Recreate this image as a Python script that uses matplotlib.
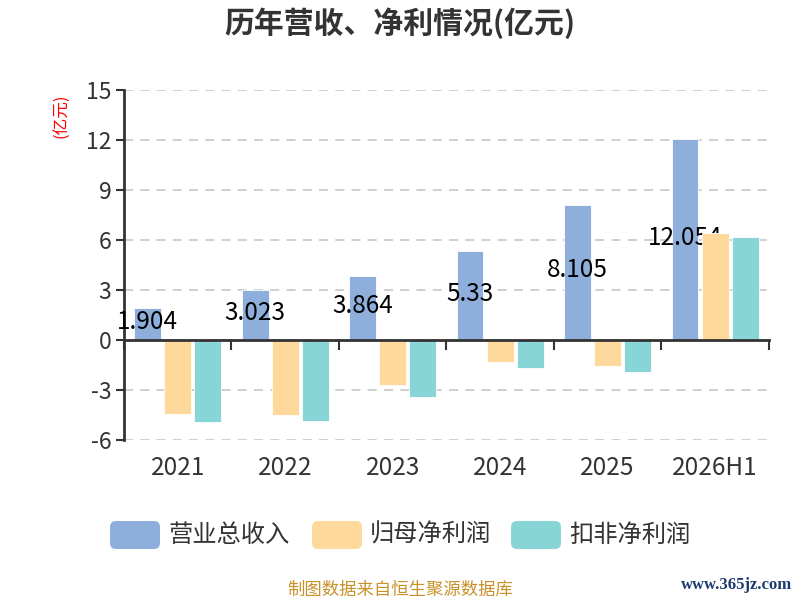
import matplotlib
matplotlib.use('Agg')
import matplotlib.pyplot as plt
from matplotlib.patches import FancyBboxPatch
from matplotlib.transforms import IdentityTransform, blended_transform_factory
import numpy as np

plt.rcParams['font.family'] = ['Noto Sans CJK SC', 'DejaVu Sans']

years = ['2021', '2022', '2023', '2024', '2025', '2026H1']
series_names = ['营业总收入', '归母净利润', '扣非净利润']
revenue = [1.904, 3.023, 3.864, 5.33, 8.105, 12.054]
net_profit = [-4.46, -4.52, -2.73, -1.32, -1.56, 6.44]
net_profit_ded = [-4.92, -4.88, -3.44, -1.66, -1.92, 6.20]
colors = ['#8eaedb', '#fed99b', '#88d5d8']
yticks = [-6, -3, 0, 3, 6, 9, 12, 15]

fig = plt.figure(figsize=(8, 6), dpi=100)
ax = fig.add_axes([0.155, 0.2667, 0.806, 0.5833])

x = np.arange(len(years))
offsets = [-0.28, 0.0, 0.28]
zs = [3, 4, 4]
for vals, off, c, z in zip([revenue, net_profit, net_profit_ded], offsets, colors, zs):
    ax.bar(x + off, vals, width=0.25, color=c, edgecolor='white', linewidth=0.6, zorder=z)

# value labels for revenue, centred in the bar (drawn under the later series)
for xi, v in zip(x, revenue):
    ax.text(xi + offsets[0], v / 2 + 0.12, '%g' % v, ha='center', va='center',
            fontsize=17.5, color='black', zorder=3.5)

ax.set_xlim(-0.5, len(years) - 0.5)
ax.set_ylim(-6, 15)
ax.set_yticks(yticks)
ax.set_yticklabels([str(t) for t in yticks])
ax.yaxis.grid(True, linestyle=(0, (5, 4)), color='#cccccc', linewidth=1.3, zorder=0)
ax.tick_params(axis='y', labelsize=16.5, colors='#333333', length=6, width=1.5, pad=3)

for s in ['top', 'right']:
    ax.spines[s].set_visible(False)
ax.spines['left'].set_color('#333333')
ax.spines['left'].set_linewidth(2)
ax.spines['left'].set_zorder(3.4)
ax.spines['bottom'].set_position(('data', 0))
ax.spines['bottom'].set_color('#333333')
ax.spines['bottom'].set_linewidth(2)
ax.spines['bottom'].set_zorder(4.5)
ax.set_xticks(np.arange(len(years) + 1) - 0.5)
ax.set_xticklabels([])
ax.tick_params(axis='x', direction='out', length=7, width=1.5, colors='#333333')

# category labels at the bottom of the plot area
trans = blended_transform_factory(ax.transData, ax.transAxes)
for xi, lab in zip(x, years):
    ax.text(xi, -0.042, lab, transform=trans, ha='center', va='top',
            fontsize=17.5, color='#333333')

ax.text(-0.096, 0.925, '(亿元)', transform=ax.transAxes, rotation=90,
        ha='center', va='center', fontsize=12, color='red')

fig.text(0.5, 0.962, '历年营收、净利情况(亿元)', ha='center', va='center',
         fontsize=21.5, fontweight='bold', color='#333333')

# legend with rounded swatches (pixel coordinates)
box_x = [110, 312, 511]
for bx, name, c in zip(box_x, series_names, colors):
    fig.add_artist(FancyBboxPatch((bx, 51), 50, 28, boxstyle='round,pad=0,rounding_size=6',
                                  transform=IdentityTransform(), facecolor=c, edgecolor='none'))
    fig.text((bx + 58) / 800, 65 / 600, name, ha='left', va='center',
             fontsize=17.5, color='#333333')

fig.text(0.5, 0.017, '制图数据来自恒生聚源数据库', ha='center', va='center',
         fontsize=12.5, color='#c8912a')
fig.text(0.99, 0.025, 'www.365jz.com', ha='right', va='center',
         fontsize=12, color='#1d3a6e', family='Liberation Serif', fontweight='bold')

fig.savefig('out.png', dpi=100)
